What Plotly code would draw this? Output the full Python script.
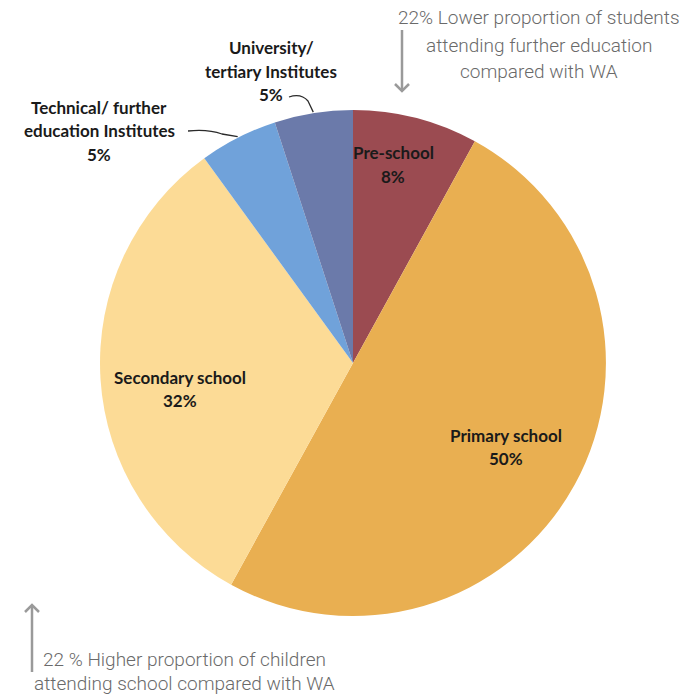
import math
import plotly.graph_objects as go

# Share of students by type of education institution
categories = ["Pre-school", "Primary school", "Secondary school",
              "Technical/ further education Institutes", "University/ tertiary Institutes"]
shares = [8, 50, 32, 5, 5]
colors = ["#9B4B51", "#E9AF51", "#FCDB96", "#70A2DA", "#6B7AAA"]

# Text lines for each slice label (the last line is the percentage)
label_lines = [
    ["Pre-school"],
    ["Primary school"],
    ["Secondary school"],
    ["Technical/ further", "education Institutes"],
    ["University/", "tertiary Institutes"],
]

top_note = ["22% Lower proportion of students", "attending further education", "compared with WA"]
bottom_note = ["22 % Higher proportion of children", "attending school compared with WA"]

W, H = 684, 696
CX, CY, R = 353, 363, 253  # pie centre and radius in pixels

fig = go.Figure(go.Pie(
    labels=categories,
    values=shares,
    sort=False,
    direction="clockwise",
    rotation=0,
    marker=dict(colors=colors, line=dict(width=0)),
    textinfo="none",
    hoverinfo="label+percent",
    showlegend=False,
    domain=dict(x=[(CX - R) / W, (CX + R) / W], y=[1 - (CY + R) / H, 1 - (CY - R) / H]),
))


def px_to_paper(x, y):
    return x / W, 1 - y / H


def polar(frac_angle, radius):
    a = 2 * math.pi * frac_angle
    return CX + radius * math.sin(a), CY - radius * math.cos(a)


annotations = []
shapes = []
label_font = dict(family="Lato, Noto Sans, sans-serif", size=17, color="#1a1a1a", weight="bold")
line_gap = 23.5

total = sum(shares)
cum = 0
mids = []
for v in shares:
    mids.append((cum + v / 2) / total)
    cum += v

# inside labels: angle offset (fraction of turn) and radial position
inside = {0: (-0.008, 0.80), 1: (0.0, 0.69), 2: (-0.014, 0.69)}
for i, (da, rf) in inside.items():
    x, y = polar(mids[i] + da, rf * R)
    lines = label_lines[i] + [f"{shares[i]}%"]
    n = len(lines)
    for k, t in enumerate(lines):
        yy = y + (k - (n - 1) / 2) * line_gap
        px, py = px_to_paper(x, yy)
        annotations.append(dict(x=px, y=py, xref="paper", yref="paper", text=t,
                                showarrow=False, font=label_font, xanchor="center", yanchor="middle"))

# outside labels with leader lines
outside = {
    4: dict(center=(271, 71), path=[(289, 97), (301, 93), (308, 101)]),
    3: dict(center=(99, 131), path=[(188, 131), (208, 129), (222, 134)]),
}
for i, spec in outside.items():
    cx, cy = spec["center"]
    lines = label_lines[i] + [f"{shares[i]}%"]
    n = len(lines)
    for k, t in enumerate(lines):
        yy = cy + (k - (n - 1) / 2) * line_gap
        px, py = px_to_paper(cx, yy)
        annotations.append(dict(x=px, y=py, xref="paper", yref="paper", text=t,
                                showarrow=False, font=label_font, xanchor="center", yanchor="middle"))
    ex, ey = polar(mids[i], R + 1)
    pts = spec["path"] + [(ex, ey)]
    pp = [px_to_paper(a, b) for a, b in pts]
    d = f"M {pp[0][0]} {pp[0][1]} Q {pp[1][0]} {pp[1][1]} {pp[2][0]} {pp[2][1]} L {pp[3][0]} {pp[3][1]}"
    shapes.append(dict(type="path", path=d, xref="paper", yref="paper",
                       line=dict(color="#2a2a2a", width=1.3)))

note_font = dict(family="Roboto, Open Sans, sans-serif", size=19, color="#6a6a6a", weight=300)
for k, t in enumerate(top_note):
    px, py = px_to_paper(539, 18 + k * 27)
    annotations.append(dict(x=px, y=py, xref="paper", yref="paper", text=t, showarrow=False,
                            font=note_font, xanchor="center", yanchor="middle"))
for k, t in enumerate(bottom_note):
    px, py = px_to_paper(184, 659 + k * 24)
    annotations.append(dict(x=px, y=py, xref="paper", yref="paper", text=t, showarrow=False,
                            font=note_font, xanchor="center", yanchor="middle"))

arrow_col = "#9a9a9a"


def arrow(x, y0, y1):
    # vertical arrow from y0 to head at y1 (pixels)
    a0 = px_to_paper(x, y0)
    a1 = px_to_paper(x, y1)
    shapes.append(dict(type="line", xref="paper", yref="paper", x0=a0[0], y0=a0[1], x1=a1[0], y1=a1[1],
                       line=dict(color=arrow_col, width=2.5)))
    s = 1 if y1 > y0 else -1
    l = px_to_paper(x - 7, y1 - s * 7)
    r = px_to_paper(x + 7, y1 - s * 7)
    shapes.append(dict(type="path", xref="paper", yref="paper",
                       path=f"M {l[0]} {l[1]} L {a1[0]} {a1[1]} L {r[0]} {r[1]}",
                       line=dict(color=arrow_col, width=2.5)))


arrow(402, 30, 91)
arrow(32, 672, 605)

fig.update_layout(
    width=W, height=H,
    margin=dict(l=0, r=0, t=0, b=0),
    paper_bgcolor="white",
    plot_bgcolor="white",
    annotations=annotations,
    shapes=shapes,
)

fig.write_html("out.html")
